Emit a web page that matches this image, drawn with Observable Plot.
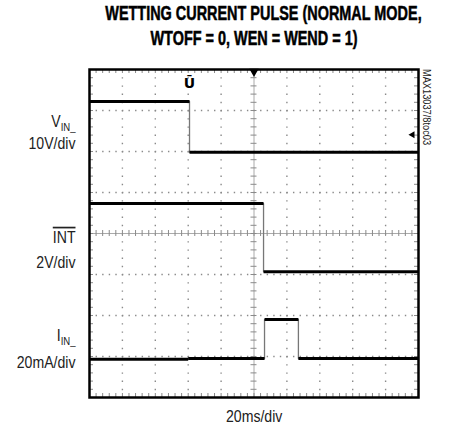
<!DOCTYPE html>
<html><head><meta charset="utf-8">
<script src="https://cdn.jsdelivr.net/npm/d3@7"></script>
<script src="https://cdn.jsdelivr.net/npm/@observablehq/plot@0.6"></script>
<style>
body{margin:0;background:#fff;width:455px;height:432px;position:relative;overflow:hidden;font-family:"Liberation Sans",Arial,sans-serif;color:#000}
#title{position:absolute;left:0;top:1px;width:455px;padding-left:53px;box-sizing:border-box;text-align:center;font-weight:bold;font-size:19.5px;line-height:25px;transform:scaleX(0.74);transform-origin:254px 0;-webkit-text-stroke:0.5px #000;white-space:nowrap}
#chart{position:absolute;left:0;top:58px}
#caption{position:absolute;left:0;top:407px;width:455px;padding-left:53px;box-sizing:border-box;text-align:center;font-size:17px;line-height:20px;transform:scaleX(0.83);transform-origin:255px 0;color:#222}
#side{position:absolute;left:421px;top:69px;writing-mode:vertical-rl;font-size:11px;line-height:12px;transform:scaleY(0.84);transform-origin:0 0;color:#222}
</style>
</head><body>
<div id="title">WETTING CURRENT PULSE (NORMAL MODE,<br>WTOFF = 0, WEN = WEND = 1)</div>
<div id="chart"></div>
<div id="caption">20ms/div</div>
<div id="side">MAX13037/8toc03</div>
<script>
// time axis: 10 divisions, vertical: 8 divisions (0 = bottom)
const xDivs = [0,1,2,3,4,5,6,7,8,9,10];
const yDivs = [0,1,2,3,4,5,6,7,8];

// traces (x in divisions, level in divisions) – step-after
const vinX = [0, 3.04, 10];
const vinY = [7.22, 5.98, 5.98];
const intX = [0, 5.29, 10];
const intY = [4.73, 3.07, 3.07];
const iinX = [0, 3.0, 5.32, 6.35, 10];
const iinY = [0.93, 0.95, 1.9, 0.95, 0.95];

// channel labels
const labelText = ["VIN_", "10V/div", "INT", "2V/div", "IIN_", "20mA/div"];
const labelY = [6.73, 6.2, 3.9, 3.29, 1.5, 0.85];

// markers
const triggerX = [5];
const trigPosX = [3.04];
const trigPosY = [7.66];
const trigLevel = [6.41];

const minorX = d3.range(0, 51).map(i => i / 5);
const minorY = d3.range(0, 41).map(i => i / 5);

function steps(xs, ys) {
  return xs.map((x, i) => ({x, y: ys[i]}));
}
function levels(xs, ys) {
  const out = [];
  for (let i = 0; i < xs.length - 1; i++) out.push({x1: xs[i], x2: xs[i + 1], y: ys[i]});
  return out;
}
const traces = [[vinX, vinY], [intX, intY], [iinX, iinY]];

const gridCol = "#8a8a8a";
const marks = [
  Plot.ruleX(xDivs.filter(d => d > 0 && d < 10 && d !== 5), {stroke: gridCol, strokeWidth: 1.4, strokeDasharray: "1.4 6.8"}),
  Plot.ruleY(yDivs.filter(d => d > 0 && d < 8 && d !== 4), {stroke: gridCol, strokeWidth: 1.4, strokeDasharray: "1.4 5.18"}),
  Plot.ruleX([5], {stroke: "#aaa", strokeWidth: 1}),
  Plot.ruleY([4], {stroke: "#aaa", strokeWidth: 1}),
  Plot.ruleX(minorX, {y1: 4, y2: 4, insetTop: -3, insetBottom: -3, stroke: gridCol, strokeWidth: 1}),
  Plot.ruleY(minorY, {x1: 5, x2: 5, insetLeft: -3, insetRight: -3, stroke: gridCol, strokeWidth: 1}),
  Plot.ruleX(minorX, {y1: 8, y2: 8, insetTop: 0, insetBottom: -4, stroke: gridCol, strokeWidth: 1}),
  Plot.ruleX(minorX, {y1: 0, y2: 0, insetTop: -4, insetBottom: 0, stroke: gridCol, strokeWidth: 1}),
  Plot.ruleY(minorY, {x1: 0, x2: 0, insetLeft: 0, insetRight: -4, stroke: gridCol, strokeWidth: 1}),
  Plot.ruleY(minorY, {x1: 10, x2: 10, insetLeft: -4, insetRight: 0, stroke: gridCol, strokeWidth: 1}),
];
for (const [xs, ys] of traces) {
  marks.push(Plot.line(steps(xs, ys), {x: "x", y: "y", curve: "step-after", stroke: "#777", strokeWidth: 1.3}));
  marks.push(Plot.link(levels(xs, ys), {x1: "x1", x2: "x2", y1: "y", y2: "y", stroke: "#000", strokeWidth: 3}));
}
marks.push(
  Plot.frame({stroke: "#000", strokeWidth: 2.5}),
  Plot.dot(triggerX, {x: d => d, y: 8, symbol: "triangle", rotate: 180, r: 3.5, fill: "#000", stroke: "none", dy: 2}),
  Plot.text(trigPosX, {x: d => d, y: (d, i) => trigPosY[i], text: () => "Ū", fontWeight: "bold", fontSize: 14, fontFamily: "DejaVu Sans"}),
  Plot.dot(trigLevel, {x: 10, y: d => d, symbol: "triangle", rotate: -90, r: 2.6, fill: "#000", stroke: "none", dx: -6}),
  Plot.text(labelText, {x: 0, y: (d, i) => labelY[i], text: d => d, textAnchor: "end", dx: -14, fontSize: 17, fill: "#222", className: "chlabel"})
);

const svg = Plot.plot({
  width: 455, height: 344,
  marginLeft: 89, marginRight: 37, marginTop: 11, marginBottom: 5,
  x: {domain: [0, 10], axis: null},
  y: {domain: [0, 8], axis: null},
  style: {fontFamily: "'Liberation Sans', Arial, sans-serif", background: "#fff"},
  marks
});

d3.select(svg).selectAll("g.chlabel text").each(function() {
  const t = this.textContent;
  const sel = d3.select(this);
  const tr = sel.attr("transform") || "";
  sel.attr("transform", tr + " scale(0.83,1)");
  if (t === "VIN_" || t === "IIN_") {
    sel.text(null);
    sel.append("tspan").text(t[0]);
    sel.append("tspan").attr("font-size", 11.5).attr("dy", 3.5).text(t.slice(1));
  } else if (t === "INT") {
    this.style.textDecoration = "overline";
  }
});
document.getElementById("chart").appendChild(svg);
</script>
</body></html>
